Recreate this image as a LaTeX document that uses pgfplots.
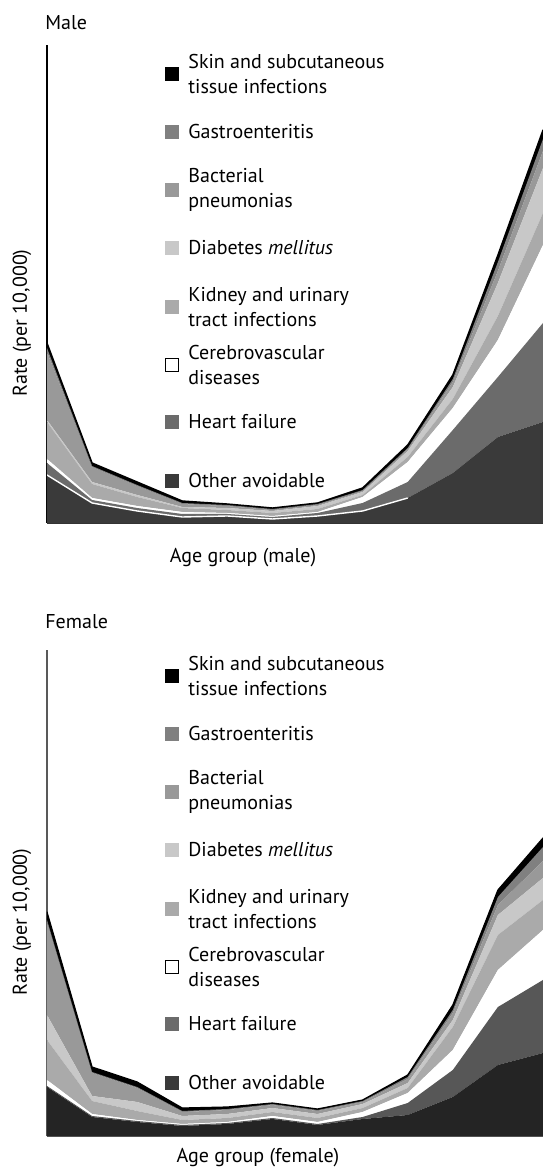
\documentclass[border=0pt]{standalone}
\usepackage{pgfplots}
\pgfplotsset{compat=1.18}
\usepackage{pgfplotstable}
\usepackage{fontspec}
\setmainfont{PT Sans}

\definecolor{mOth}{HTML}{3A3A3A}
\definecolor{mHF}{HTML}{6B6B6B}
\definecolor{fOth}{HTML}{242424}
\definecolor{fHF}{HTML}{575757}
\definecolor{cKid}{HTML}{AAAAAA}
\definecolor{cDia}{HTML}{C8C8C8}
\definecolor{cBac}{HTML}{999999}
\definecolor{cGas}{HTML}{808080}

% layer thicknesses (rate, arbitrary units), age groups 0..11
\pgfplotstableread{
x oth hf cer kid dia bac gas ski
0  48 12  4 37  2 68  4 5
1  20  3  2 14  2 15  1 3
2  12  3  2  9  2  9  1 3
3   6  3  2  4  1  3  1 2
4   7  2  1  3  2  2  1 1
5   4  2  1  3  2  1  1 1
6   7  3  1  3  3  1  1 1
7  12  8  6  2  3  1  1 2
8  25 16 20  5  6  2  1 3
9  50 43 22  9 12  5  3 4
10 86 60 37 24 33 12  9 7
11 101 99 78 32 45 17 12 9
}\male

\pgfplotstableread{
x oth hf cer kid dia bac gas ski
0  49  1  6 40 25 93  2 8
1  19  1  2 13  5 23  1 5
2  14  1  1  9  9 14  1 5
3  10  1  1  4  4  4  1 3
4  12  1  1  4  4  4  1 2
5  17  1  2  4  4  3  1 1
6  11  1  2  4  4  3  1 1
7  17  2  5  4  4  2  1 1
8  21 12 10  5  5  4  2 2
9  39 27 20 23  7  7  3 5
10 71 58 37 35 20 10  8 7
11 83 73 50 30 22 17 14 9
}\female

\pgfplotsset{
  chartbase/.style={
    anchor=south west, scale only axis, width=248pt,
    xmin=0, xmax=11, ymin=0,
    axis lines=left, axis line style={-},
    ticks=none,
  },
}

\begin{document}
\begin{tikzpicture}[x=1pt,y=1pt,font=\fontsize{10}{12.5}\selectfont]
\useasboundingbox (0,0) rectangle (271.5,584.5);

% ---------------- Male ----------------
\begin{axis}[chartbase, at={(23.5pt,323pt)}, height=239pt, ymax=478,
  stack plots=y,
  x axis line style={color=black!80, line width=0.9pt},
  y axis line style={color=black, line width=0.7pt}]
\addplot[fill=mOth, draw=none] table[x=x,y=oth]{\male} \closedcycle;
\addplot[fill=mHF, draw=none] table[x=x,y=hf]{\male} \closedcycle;
\addplot[fill=white, draw=none] table[x=x,y=cer]{\male} \closedcycle;
\addplot[fill=cKid, draw=none] table[x=x,y=kid]{\male} \closedcycle;
\addplot[fill=cDia, draw=none] table[x=x,y=dia]{\male} \closedcycle;
\addplot[fill=cBac, draw=none] table[x=x,y=bac]{\male} \closedcycle;
\addplot[fill=cGas, draw=none] table[x=x,y=gas]{\male} \closedcycle;
\addplot[fill=black, draw=black, line width=0.7pt, line join=round] table[x=x,y=ski]{\male} \closedcycle;
\end{axis}
\begin{axis}[chartbase, at={(23.5pt,323pt)}, height=239pt, ymax=478, hide axis]
\addplot[draw=white, line width=0.7pt, mark=none] coordinates {
 (0,48) (1,20) (2,12) (3,6) (4,7) (5,4) (6,7) (7,12) (8,25)};
\end{axis}

% ---------------- Female ----------------
\begin{axis}[chartbase, at={(23.5pt,16.5pt)}, height=243pt, ymax=486,
  stack plots=y,
  axis line style={color=black!65, line width=0.8pt}]
\addplot[fill=fOth, draw=none] table[x=x,y=oth]{\female} \closedcycle;
\addplot[fill=fHF, draw=none] table[x=x,y=hf]{\female} \closedcycle;
\addplot[fill=white, draw=none] table[x=x,y=cer]{\female} \closedcycle;
\addplot[fill=cKid, draw=none] table[x=x,y=kid]{\female} \closedcycle;
\addplot[fill=cDia, draw=none] table[x=x,y=dia]{\female} \closedcycle;
\addplot[fill=cBac, draw=none] table[x=x,y=bac]{\female} \closedcycle;
\addplot[fill=cGas, draw=none] table[x=x,y=gas]{\female} \closedcycle;
\addplot[fill=black, draw=black, line width=0.6pt, line join=round] table[x=x,y=ski]{\female} \closedcycle;
\end{axis}

% ---------------- titles and labels ----------------
\node[anchor=base west, inner sep=0] at (22.5,569.5) {Male};
\node[anchor=base west, inner sep=0] at (22.5,270) {Female};
\node[anchor=base, inner sep=0] at (121.5,303) {Age group (male)};
\node[anchor=base, inner sep=0] at (129,3) {Age group (female)};
\node[rotate=90, anchor=base, inner sep=0] at (13.5,423) {Rate (per 10,000)};
\node[rotate=90, anchor=base, inner sep=0] at (13.5,123.5) {Rate (per 10,000)};

% ---------------- legends ----------------
\foreach \yo in {0,301} {
  \begin{scope}[yshift=-\yo pt]
  \fill[black] (82.5,544) rectangle (89.5,551);
  \node[anchor=west, align=left, inner sep=0] at (94,547.5) {Skin and subcutaneous\\tissue infections};
  \fill[cGas] (82.5,515) rectangle (89.5,522);
  \node[anchor=west, align=left, inner sep=0] at (94,518.5) {Gastroenteritis};
  \fill[cBac] (82.5,486) rectangle (89.5,493);
  \node[anchor=west, align=left, inner sep=0] at (94,489.5) {Bacterial\\pneumonias};
  \fill[cDia] (82.5,457) rectangle (89.5,464);
  \node[anchor=west, align=left, inner sep=0] at (94,460.5) {Diabetes \textit{mellitus}};
  \fill[cKid] (82.5,427.5) rectangle (89.5,434.5);
  \node[anchor=west, align=left, inner sep=0] at (94,431) {Kidney and urinary\\tract infections};
  \draw[black, line width=0.5pt, fill=white] (82.75,398.75) rectangle (89.25,405.25);
  \node[anchor=west, align=left, inner sep=0] at (94,402) {Cerebrovascular\\diseases};
  \fill[mHF] (82.5,370) rectangle (89.5,377);
  \node[anchor=west, align=left, inner sep=0] at (94,373.5) {Heart failure};
  \fill[mOth] (82.5,340.5) rectangle (89.5,347.5);
  \node[anchor=west, align=left, inner sep=0] at (94,344) {Other avoidable};
  \end{scope}
}
\end{tikzpicture}
\end{document}
